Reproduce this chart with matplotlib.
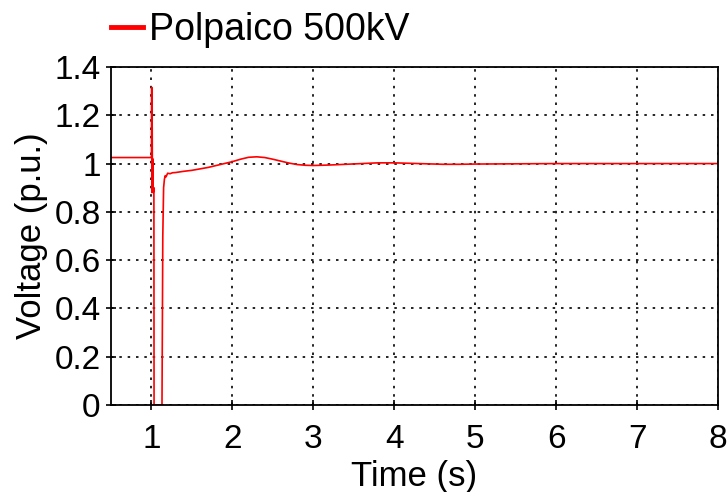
import matplotlib
matplotlib.use("Agg")
import matplotlib.pyplot as plt

plt.rcParams['font.family'] = ['Liberation Sans', 'DejaVu Sans']

# Bus voltage at Polpaico 500 kV during and after the fault
time_s = [0.50, 0.99, 1.000, 1.003, 1.006, 1.009, 1.012, 1.015, 1.018, 1.022, 1.030,
          1.032, 1.130, 1.140, 1.150, 1.160, 1.170, 1.180, 1.200, 1.230, 1.260,
          1.300, 1.400, 1.500, 1.600, 1.700, 1.800, 1.900, 2.000, 2.100, 2.200,
          2.300, 2.400, 2.500, 2.600, 2.700, 2.800, 2.900, 3.000, 3.200, 3.400,
          3.600, 3.800, 4.000, 4.200, 4.400, 4.600, 4.800, 5.000, 5.500, 6.000,
          6.500, 7.000, 7.500, 8.000]
voltage_pu = [1.025, 1.025, 1.025, 1.316, 0.880, 1.150, 0.900, 1.020, 0.950, 0.880, 0.900,
              0.000, 0.000, 0.700, 0.900, 0.935, 0.950, 0.945, 0.960, 0.958, 0.962,
              0.963, 0.968, 0.972, 0.978, 0.984, 0.992, 1.000, 1.008, 1.018, 1.026,
              1.028, 1.025, 1.018, 1.010, 1.002, 0.996, 0.993, 0.992, 0.994, 0.997,
              1.000, 1.003, 1.003, 1.001, 0.999, 0.997, 0.997, 0.998, 0.999, 1.000,
              1.000, 1.000, 1.000, 1.000]

x_ticks = [1, 2, 3, 4, 5, 6, 7, 8]
y_ticks = [0, 0.2, 0.4, 0.6, 0.8, 1.0, 1.2, 1.4]
y_labels = ['0', '0.2', '0.4', '0.6', '0.8', '1', '1.2', '1.4']

fig = plt.figure(figsize=(7.28, 4.92), dpi=100)
ax = fig.add_axes([111 / 728, 1 - 405 / 492, (718 - 111) / 728, (405 - 67) / 492])

ax.plot(time_s, voltage_pu, color='#ff0000', lw=1.2, label='Polpaico 500kV')

ax.set_xlim(0.5, 8)
ax.set_ylim(0, 1.4)
ax.set_xticks(x_ticks)
ax.set_yticks(y_ticks)
ax.set_yticklabels(y_labels)
ax.tick_params(direction='inout', labelsize=24, length=7, width=1.2)
ax.tick_params(axis='x', pad=10)
ax.tick_params(axis='y', pad=4)
ax.grid(True, color='black', linestyle=(0, (1.5, 3.5)), linewidth=1.2)
for s in ax.spines.values():
    s.set_linewidth(1.3)

ax.set_xlabel('Time (s)', fontsize=25, labelpad=3.5)
ax.set_ylabel('Voltage (p.u.)', fontsize=25, labelpad=4.5)

leg = ax.legend(loc='lower left', bbox_to_anchor=(-0.012, 1.035), frameon=False,
                fontsize=27, handlelength=0.85, handletextpad=0.15, borderaxespad=0.1,
                borderpad=0.1)
for h in leg.get_lines():
    h.set_linewidth(3.5)

fig.savefig('out.png', dpi=100)
